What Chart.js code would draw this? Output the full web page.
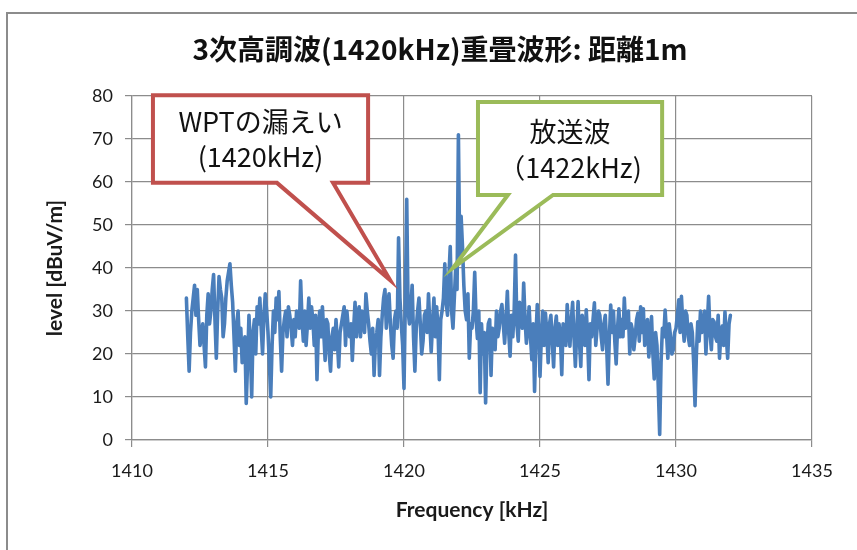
<!DOCTYPE html>
<html><head><meta charset="utf-8">
<script src="https://cdn.jsdelivr.net/npm/chart.js@4/dist/chart.umd.min.js"></script>
<style>html,body{margin:0;padding:0;background:#fff;}#wrap{width:857px;height:550px;}</style>
</head><body><div id="wrap"><canvas id="c" width="857" height="550"></canvas></div>
<script>
const chartTitle = '3次高調波(1420kHz)重畳波形: 距離1m';
const xAxisTitle = 'Frequency [kHz]';
const yAxisTitle = 'level [dBuV/m]';
const xTickValues = [1410, 1415, 1420, 1425, 1430, 1435];
const yTickValues = [0, 10, 20, 30, 40, 50, 60, 70, 80];

const frequencies = [
 1412.00,1412.05,1412.10,1412.15,1412.20,1412.25,1412.30,1412.35,1412.40,1412.45,1412.50,1412.55,1412.60,1412.65,1412.70,1412.75,1412.80,1412.85,1412.90,1412.95,
 1413.00,1413.05,1413.10,1413.15,1413.20,1413.25,1413.30,1413.35,1413.40,1413.45,1413.50,1413.55,1413.60,1413.65,1413.70,1413.75,1413.80,1413.85,1413.90,1413.95,
 1414.00,1414.05,1414.10,1414.15,1414.20,1414.25,1414.30,1414.35,1414.40,1414.45,1414.50,1414.55,1414.60,1414.65,1414.70,1414.75,1414.80,1414.85,1414.90,1414.95,
 1415.00,1415.05,1415.10,1415.15,1415.20,1415.25,1415.30,1415.35,1415.40,1415.45,1415.50,1415.55,1415.60,1415.65,1415.70,1415.75,1415.80,1415.85,1415.90,1415.95,
 1416.00,1416.05,1416.10,1416.15,1416.20,1416.25,1416.30,1416.35,1416.40,1416.45,1416.50,1416.55,1416.60,1416.65,1416.70,1416.75,1416.80,1416.85,1416.90,1416.95,
 1417.00,1417.05,1417.10,1417.15,1417.20,1417.25,1417.30,1417.35,1417.40,1417.45,1417.50,1417.55,1417.60,1417.65,1417.70,1417.75,1417.80,1417.85,1417.90,1417.95,
 1418.00,1418.05,1418.10,1418.15,1418.20,1418.25,1418.30,1418.35,1418.40,1418.45,1418.50,1418.55,1418.60,1418.65,1418.70,1418.75,1418.80,1418.85,1418.90,1418.95,
 1419.00,1419.05,1419.10,1419.15,1419.20,1419.25,1419.30,1419.35,1419.40,1419.45,1419.50,1419.55,1419.60,1419.65,1419.70,1419.75,1419.80,1419.85,1419.90,1419.95,
 1420.00,1420.05,1420.10,1420.15,1420.20,1420.25,1420.30,1420.35,1420.40,1420.45,1420.50,1420.55,1420.60,1420.65,1420.70,1420.75,1420.80,1420.85,1420.90,1420.95,
 1421.00,1421.05,1421.10,1421.15,1421.20,1421.25,1421.30,1421.35,1421.40,1421.45,1421.50,1421.55,1421.60,1421.65,1421.70,1421.75,1421.80,1421.85,1421.90,1421.95,
 1422.00,1422.05,1422.10,1422.15,1422.20,1422.25,1422.30,1422.35,1422.40,1422.45,1422.50,1422.55,1422.60,1422.65,1422.70,1422.75,1422.80,1422.85,1422.90,1422.95,
 1423.00,1423.05,1423.10,1423.15,1423.20,1423.25,1423.30,1423.35,1423.40,1423.45,1423.50,1423.55,1423.60,1423.65,1423.70,1423.75,1423.80,1423.85,1423.90,1423.95,
 1424.00,1424.05,1424.10,1424.15,1424.20,1424.25,1424.30,1424.35,1424.40,1424.45,1424.50,1424.55,1424.60,1424.65,1424.70,1424.75,1424.80,1424.85,1424.90,1424.95,
 1425.00,1425.05,1425.10,1425.15,1425.20,1425.25,1425.30,1425.35,1425.40,1425.45,1425.50,1425.55,1425.60,1425.65,1425.70,1425.75,1425.80,1425.85,1425.90,1425.95,
 1426.00,1426.05,1426.10,1426.15,1426.20,1426.25,1426.30,1426.35,1426.40,1426.45,1426.50,1426.55,1426.60,1426.65,1426.70,1426.75,1426.80,1426.85,1426.90,1426.95,
 1427.00,1427.05,1427.10,1427.15,1427.20,1427.25,1427.30,1427.35,1427.40,1427.45,1427.50,1427.55,1427.60,1427.65,1427.70,1427.75,1427.80,1427.85,1427.90,1427.95,
 1428.00,1428.05,1428.10,1428.15,1428.20,1428.25,1428.30,1428.35,1428.40,1428.45,1428.50,1428.55,1428.60,1428.65,1428.70,1428.75,1428.80,1428.85,1428.90,1428.95,
 1429.00,1429.05,1429.10,1429.15,1429.20,1429.25,1429.30,1429.35,1429.40,1429.45,1429.50,1429.55,1429.60,1429.65,1429.70,1429.75,1429.80,1429.85,1429.90,1429.95,
 1430.00,1430.05,1430.10,1430.15,1430.20,1430.25,1430.30,1430.35,1430.40,1430.45,1430.50,1430.55,1430.60,1430.65,1430.70,1430.75,1430.80,1430.85,1430.90,1430.95,
 1431.00,1431.05,1431.10,1431.15,1431.20,1431.25,1431.30,1431.35,1431.40,1431.45,1431.50,1431.55,1431.60,1431.65,1431.70,1431.75,1431.80,1431.85,1431.90,1431.95,
 1432.00
];

const levels = [
 33,24,16,25,30,33,36,29,35,28,22,24,27,22,17,29,34,27,30,35,
 38.5,28,19,30,38,35,33,24,27,33,37,39,41,36,32,24,16,27,30,22,
 26,18,20,24,8.5,18,29,22,10,25,28,20,31,27,33,26,20,29,34,30,
 25,18,10,22,30,25,33,28,34.5,24,16,25,28,30,24,31,29,26,22,28,
 24,30,29,26,37,28,23,30,22,27,33,26,31,28,22,29,14,25,30,24,
 31,25,18.5,28,27,20,16,24,26,21,28,23,17,25,27,29,31,22,30,26,
 24,27,18.5,26,32,24,29,31,24,30,28,25,34,30,27,23,20,26,15,23,
 25,28,15,24,29,33,35,26,31,34,27,22,19,28,30,26,47,33,27,22,
 12,33,56,30,27,31,36,24,16,26,30,33,27,20,23,29,30,25,34,27,
 20.5,27,33,24,31,26,14,28,30,33,41,32,29,38,45,30,26,33,40,35,
 71,42,52,45,36,30,28,34,19,27,26,30,39,28,23.6,30,11,27,20,25,
 8.6,22,27,28,15,26,25,21,30,24,26,30,31.5,27,22.5,28,34.6,25,19.5,29,
 24,30,43,27,23,32,28,26,36.5,28,22.5,26,31,24,18.7,27,11.3,24,31.5,26,
 14.8,24,30,22,29.5,25,18,27,29,23,17,26,28.8,22,27,24,15.2,27,25,22,
 31.5,26,21.8,28,32,24,17.1,25,32.2,23,17.1,29,26,22,30.3,24,14,27,24,28,
 31.9,22,26,30,29,24,21,27,29,22,13,24,31.4,25,30,23,17.7,26,30.5,24,
 28,24,33,26,28,30,20,27,25.5,21,24,28,29.5,23,31,25,30.5,22,25,28,
 19.3,24,28.7,20,14.2,25,22,12,1.3,18,26,24,30.2,25,19,27,24,20,21,25,
 26,29,32.6,25,33.4,27,23,30,29,24,22,27,25,18,8,20,27.5,23,30,25,
 26,30,20,27,33.4,25,21,28,27.5,24,23,29,19,25,26.5,22,29.8,24,19,27,
 29
];

const calloutLeakLines = ['WPTの漏えい', '(1420kHz)'];
const calloutBroadcastLines = ['放送波', '（1422kHz)'];

// callout geometry in data units (freq, level)
const callouts = [
  { lines: calloutLeakLines, color: '#C0504D',
    box: { x1: 1410.77, x2: 1418.68, yTop: 80.2, yBottom: 59.8 },
    base: [1415.33, 1417.39], tip: { x: 1419.49, y: 37.2 }, textY: [27, 62] },
  { lines: calloutBroadcastLines, color: '#9BBB59',
    box: { x1: 1422.72, x2: 1429.49, yTop: 78.6, yBottom: 57.0 },
    base: [1423.82, 1425.48], tip: { x: 1421.8, y: 40.0 }, textY: [30, 66] }
];

const points = frequencies.map((f, i) => ({ x: f, y: levels[i] }));

const framePlugin = {
  id: 'frameAndCallouts',
  beforeDraw(chart) {
    const ctx = chart.ctx;
    ctx.save();
    ctx.fillStyle = '#ffffff';
    ctx.fillRect(0, 0, chart.width, chart.height);
    ctx.strokeStyle = '#8c8c8c';
    ctx.lineWidth = 2;
    ctx.strokeRect(7, 13, 1000, 1000);
    ctx.fillStyle = '#111111';
    ctx.font = 'bold 28px "Noto Sans CJK JP"';
    ctx.textAlign = 'center';
    ctx.textBaseline = 'middle';
    ctx.fillText(chartTitle, 440, 49);
    ctx.restore();
  },
  afterDatasetsDraw(chart) {
    const ctx = chart.ctx;
    const xs = chart.scales.x, ys = chart.scales.y;
    callouts.forEach(c => {
      const L = xs.getPixelForValue(c.box.x1), R = xs.getPixelForValue(c.box.x2);
      const T = ys.getPixelForValue(c.box.yTop), B = ys.getPixelForValue(c.box.yBottom);
      const b1 = xs.getPixelForValue(c.base[0]), b2 = xs.getPixelForValue(c.base[1]);
      const tx = xs.getPixelForValue(c.tip.x), ty = ys.getPixelForValue(c.tip.y);
      ctx.save();
      ctx.beginPath();
      ctx.moveTo(L, T);
      ctx.lineTo(R, T);
      ctx.lineTo(R, B);
      ctx.lineTo(b2, B);
      ctx.lineTo(tx, ty);
      ctx.lineTo(b1, B);
      ctx.lineTo(L, B);
      ctx.closePath();
      ctx.fillStyle = '#ffffff';
      ctx.fill();
      ctx.lineWidth = 4;
      ctx.lineJoin = 'miter';
      ctx.strokeStyle = c.color;
      ctx.stroke();
      ctx.fillStyle = '#111111';
      ctx.font = '27px "Noto Sans CJK JP"';
      ctx.textAlign = 'center';
      ctx.textBaseline = 'middle';
      const cx = (L + R) / 2;
      c.lines.forEach((t, i) => ctx.fillText(t, cx, T + c.textY[i]));
      ctx.restore();
    });
  }
};

new Chart(document.getElementById('c'), {
  type: 'line',
  data: {
    datasets: [{
      data: points,
      borderColor: '#4A7EBB',
      borderWidth: 3.6,
      pointRadius: 0,
      tension: 0,
      fill: false,
      borderJoinStyle: 'round',
      borderCapStyle: 'round'
    }]
  },
  options: {
    responsive: false,
    animation: false,
    devicePixelRatio: 1,
    layout: { padding: { left: 0, right: 45, top: 96, bottom: 0 } },
    plugins: {
      legend: { display: false },
      tooltip: { enabled: false },
      title: { display: false }
    },
    scales: {
      x: {
        type: 'linear',
        min: xTickValues[0],
        max: xTickValues[xTickValues.length - 1],
        afterBuildTicks: s => { s.ticks = xTickValues.map(v => ({ value: v })); },
        afterFit: s => { s.height = 110; },
        ticks: { color: '#1a1a1a', font: { family: 'Lato', size: 18 }, padding: 13, maxRotation: 0,
          callback: v => String(v) },
        grid: { color: '#8c8c8c', lineWidth: 1.2, tickLength: 7, drawTicks: true },
        border: { color: '#8c8c8c', width: 1.2 },
        title: { display: true, text: xAxisTitle, color: '#1a1a1a',
          font: { family: 'Lato', size: 21, weight: 'bold', lineHeight: 1.2 },
          padding: { top: 0, bottom: 27 } }
      },
      y: {
        min: yTickValues[0],
        max: yTickValues[yTickValues.length - 1],
        afterBuildTicks: s => { s.ticks = yTickValues.map(v => ({ value: v })); },
        afterFit: s => { s.width = 132; },
        ticks: { color: '#1a1a1a', font: { family: 'Lato', size: 18 }, padding: 12,
          callback: v => String(v) },
        grid: { color: '#8c8c8c', lineWidth: 1.2, tickLength: 7, drawTicks: true },
        border: { color: '#8c8c8c', width: 1.2 },
        title: { display: true, text: yAxisTitle, color: '#1a1a1a',
          font: { family: 'Lato', size: 21, weight: 'bold', lineHeight: 1.2 },
          padding: { top: 43, bottom: 0 } }
      }
    }
  },
  plugins: [framePlugin]
});
</script>
</body></html>
